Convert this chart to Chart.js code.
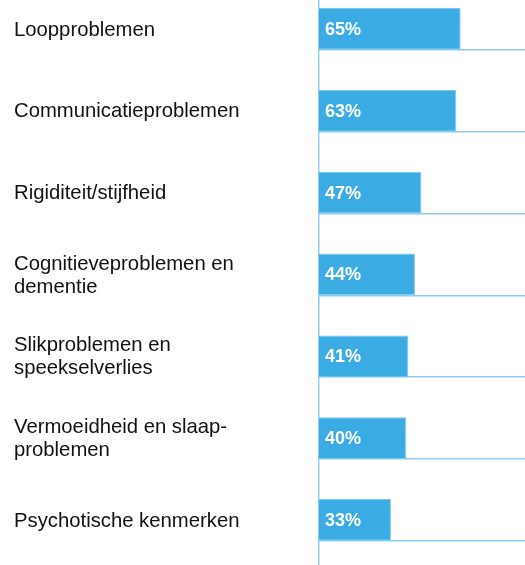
<!DOCTYPE html>
<html>
<head>
<meta charset="utf-8">
<script src="https://cdn.jsdelivr.net/npm/chart.js@4/dist/chart.umd.min.js"></script>
<style>
  html, body { margin: 0; padding: 0; background: #ffffff; }
  #wrap { width: 525px; height: 565px; position: relative; }
</style>
</head>
<body>
<div id="wrap"><canvas id="c"></canvas></div>
<script>
const categories = [
  'Loopproblemen',
  'Communicatieproblemen',
  'Rigiditeit/stijfheid',
  ['Cognitieveproblemen en', 'dementie'],
  ['Slikproblemen en', 'speekselverlies'],
  ['Vermoeidheid en slaap-', 'problemen'],
  'Psychotische kenmerken'
];
const values = [65, 63, 47, 44, 41, 40, 33];
const valueSuffix = '%';

const BAR_FRAC = 0.51;
const FONT = '"Liberation Sans", Arial, Helvetica, sans-serif';
const BAR_COLOR = '#3AABE3';
const LINE_COLOR = '#8FCDEE';

const points = values.map((v, i) => ({ x: v, y: i }));

const valueLabels = {
  id: 'valueLabels',
  afterDatasetsDraw(chart) {
    const ctx = chart.ctx;
    const meta = chart.getDatasetMeta(0);
    ctx.save();
    ctx.font = 'bold 18px ' + FONT;
    ctx.fillStyle = '#ffffff';
    ctx.textAlign = 'left';
    ctx.textBaseline = 'middle';
    meta.data.forEach((bar, i) => {
      ctx.fillText(values[i] + valueSuffix, bar.base + 6, bar.y + 1);
    });
    ctx.restore();
  }
};

const noPad = (s) => { s.paddingTop = 0; s.paddingBottom = 0; };

new Chart(document.getElementById('c'), {
  type: 'bar',
  data: {
    datasets: [{
      data: points,
      backgroundColor: BAR_COLOR,
      borderColor: '#7FC6EC',
      borderWidth: 1,
      borderSkipped: 'start',
      categoryPercentage: 1,
      barPercentage: BAR_FRAC
    }]
  },
  options: {
    indexAxis: 'y',
    responsive: true,
    maintainAspectRatio: false,
    animation: false,
    layout: { padding: { left: 14, right: 0, top: 0, bottom: 0 } },
    plugins: { legend: { display: false }, tooltip: { enabled: false } },
    scales: {
      x: {
        type: 'linear',
        display: false,
        min: 0,
        max: 94.5
      },
      y: {
        type: 'linear',
        position: 'left',
        reverse: true,
        offset: false,
        bounds: 'data',
        min: -0.354,
        max: 6.55,
        afterBuildTicks: (s) => { s.ticks = categories.map((_, i) => ({ value: i })); },
        afterFit: (s) => { s.width = 305; noPad(s); },
        grid: { display: false, drawTicks: false, offset: false },
        border: { display: true, color: LINE_COLOR, width: 1.5 },
        ticks: {
          autoSkip: false,
          crossAlign: 'far',
          padding: 0,
          labelOffset: 1,
          color: '#111111',
          font: { family: FONT, size: 20.3, lineHeight: 1.13 },
          callback: (v) => categories[v]
        }
      },
      y2: {
        type: 'linear',
        position: 'right',
        reverse: true,
        offset: false,
        bounds: 'data',
        min: -0.354,
        max: 6.55,
        afterBuildTicks: (s) => { s.ticks = categories.map((_, i) => ({ value: i + BAR_FRAC / 2 })); },
        afterFit: (s) => { s.width = 0; noPad(s); },
        grid: { display: true, drawTicks: false, offset: false, color: LINE_COLOR, lineWidth: 1.5 },
        border: { display: false },
        ticks: { display: false }
      }
    }
  },
  plugins: [valueLabels]
});
</script>
</body>
</html>
